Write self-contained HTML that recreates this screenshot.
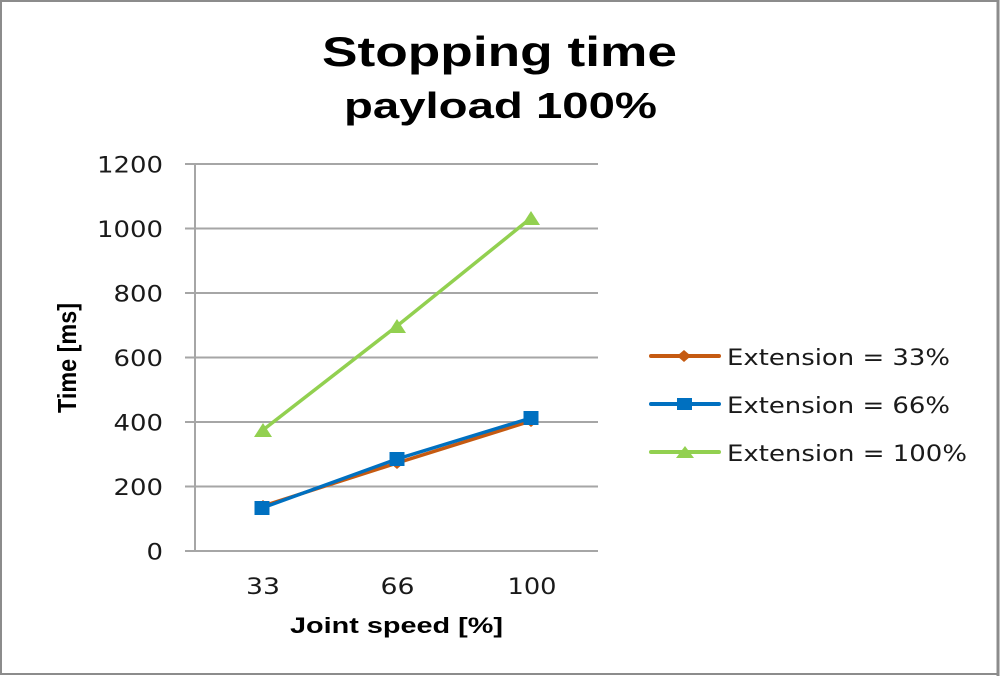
<!DOCTYPE html>
<html>
<head>
<meta charset="utf-8">
<style>
html,body{margin:0;padding:0;background:#fff;}
svg{display:block;}
</style>
</head>
<body>
<svg width="1000" height="676" viewBox="0 0 1000 676" xmlns="http://www.w3.org/2000/svg">
  <rect x="0" y="0" width="1000" height="676" fill="#ffffff"/>
  <!-- border -->
  <rect x="1" y="1" width="996.5" height="673" fill="none" stroke="#8c8c8c" stroke-width="2"/>
  <line x1="998" y1="0" x2="998" y2="676" stroke="#8c8c8c" stroke-width="3"/>

  <!-- title -->
  <text x="322" y="66" font-family="Liberation Sans, Arial, sans-serif" font-weight="bold" font-size="42" textLength="355" lengthAdjust="spacingAndGlyphs" fill="#000">Stopping time</text>
  <text x="344" y="118" font-family="Liberation Sans, Arial, sans-serif" font-weight="bold" font-size="36" textLength="313" lengthAdjust="spacingAndGlyphs" fill="#000">payload 100%</text>

  <!-- gridlines -->
  <g stroke="#a6a6a6" stroke-width="2">
    <line x1="185" y1="164" x2="598" y2="164"/>
    <line x1="185" y1="228.5" x2="598" y2="228.5"/>
    <line x1="185" y1="293" x2="598" y2="293"/>
    <line x1="185" y1="357.5" x2="598" y2="357.5"/>
    <line x1="185" y1="422" x2="598" y2="422"/>
    <line x1="185" y1="486.5" x2="598" y2="486.5"/>
    <line x1="185" y1="551" x2="598" y2="551"/>
    <line x1="195" y1="164" x2="195" y2="552"/>
  </g>

  <!-- y tick labels -->
  <g font-family="DejaVu Sans, Verdana, sans-serif" font-size="22" fill="#1a1a1a" text-anchor="end">
    <text x="163" y="172.5" textLength="66" lengthAdjust="spacingAndGlyphs">1200</text>
    <text x="163" y="237" textLength="66" lengthAdjust="spacingAndGlyphs">1000</text>
    <text x="163" y="301.5" textLength="49.5" lengthAdjust="spacingAndGlyphs">800</text>
    <text x="163" y="366" textLength="49.5" lengthAdjust="spacingAndGlyphs">600</text>
    <text x="163" y="430.5" textLength="49.5" lengthAdjust="spacingAndGlyphs">400</text>
    <text x="163" y="495" textLength="49.5" lengthAdjust="spacingAndGlyphs">200</text>
    <text x="163" y="559.5" textLength="16.5" lengthAdjust="spacingAndGlyphs">0</text>
  </g>

  <!-- x tick labels -->
  <g font-family="DejaVu Sans, Verdana, sans-serif" font-size="22" fill="#1a1a1a" text-anchor="middle">
    <text x="263" y="594" textLength="34" lengthAdjust="spacingAndGlyphs">33</text>
    <text x="397.5" y="594" textLength="34" lengthAdjust="spacingAndGlyphs">66</text>
    <text x="532" y="594" textLength="49" lengthAdjust="spacingAndGlyphs">100</text>
  </g>

  <!-- axis titles -->
  <text x="396.5" y="633" text-anchor="middle" font-family="Liberation Sans, Arial, sans-serif" font-weight="bold" font-size="22" textLength="213" lengthAdjust="spacingAndGlyphs" fill="#000">Joint speed [%]</text>
  <text transform="translate(76,358) rotate(-90)" x="0" y="0" text-anchor="middle" font-family="Liberation Sans, Arial, sans-serif" font-weight="bold" font-size="26" textLength="110" lengthAdjust="spacingAndGlyphs" fill="#000">Time [ms]</text>

  <!-- series: Extension = 100% (green) -->
  <polyline points="263,430 397,326 531,218" fill="none" stroke="#92D050" stroke-width="3.5" stroke-linejoin="round"/>
  <g fill="#92D050">
    <polygon points="263,423 272,437 254,437"/>
    <polygon points="397,319 406,333 388,333"/>
    <polygon points="531,211 540,225 522,225"/>
  </g>

  <!-- series: Extension = 33% (orange) -->
  <polyline points="263,506 397,463 531,421" fill="none" stroke="#C55A11" stroke-width="3.5" stroke-linejoin="round"/>
  <g fill="#C55A11">
    <polygon points="263,500 270,506 263,512 256,506"/>
    <polygon points="397,457 404,463 397,469 390,463"/>
    <polygon points="531,415 538,421 531,427 524,421"/>
  </g>

  <!-- series: Extension = 66% (blue) -->
  <polyline points="262,508 397,459 531,418" fill="none" stroke="#0070C0" stroke-width="3.5" stroke-linejoin="round"/>
  <g fill="#0070C0">
    <rect x="254.5" y="501" width="15" height="14"/>
    <rect x="389.5" y="452" width="15" height="14"/>
    <rect x="523.5" y="411" width="15" height="14"/>
  </g>

  <!-- legend -->
  <g stroke-width="4" stroke-linecap="round">
    <line x1="651" y1="356" x2="719" y2="356" stroke="#C55A11"/>
    <line x1="651" y1="404" x2="719" y2="404" stroke="#0070C0"/>
    <line x1="651" y1="452" x2="719" y2="452" stroke="#92D050"/>
  </g>
  <polygon points="684,350 691,356 684,362 677,356" fill="#C55A11"/>
  <rect x="677" y="398" width="15" height="12" fill="#0070C0"/>
  <polygon points="685,446 694,458 676,458" fill="#92D050"/>

  <g font-family="DejaVu Sans, Verdana, sans-serif" font-size="22" fill="#1a1a1a">
    <text x="727" y="365" textLength="223" lengthAdjust="spacingAndGlyphs">Extension = 33%</text>
    <text x="727" y="413" textLength="223" lengthAdjust="spacingAndGlyphs">Extension = 66%</text>
    <text x="727" y="461" textLength="240" lengthAdjust="spacingAndGlyphs">Extension = 100%</text>
  </g>
</svg>
</body>
</html>
